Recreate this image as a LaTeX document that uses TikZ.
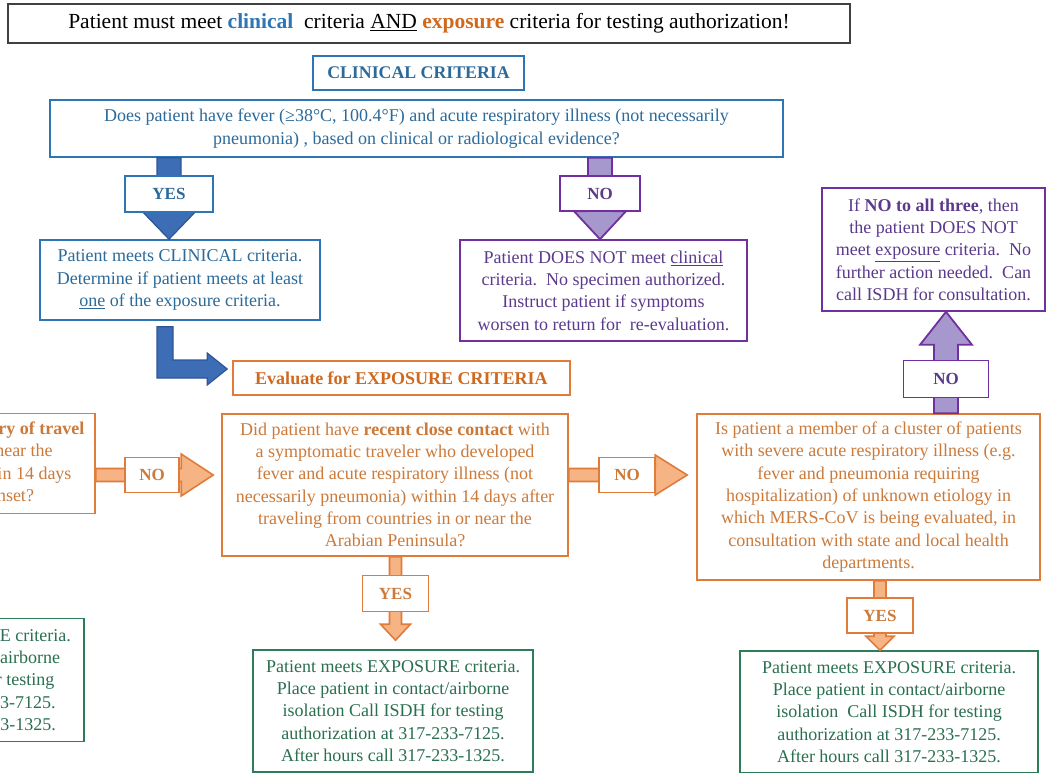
\documentclass[tikz,border=0pt]{standalone}
\usepackage{fontspec}
\setmainfont{Liberation Serif}
\usetikzlibrary{calc}

\definecolor{frameG}{HTML}{404040}
\definecolor{blueB}{HTML}{2E75B6}
\definecolor{blueT}{HTML}{2C6A9A}
\definecolor{blueF}{HTML}{3D6DB5}
\definecolor{blueD}{HTML}{2F5597}
\definecolor{purB}{HTML}{7030A0}
\definecolor{purT}{HTML}{5B3A8C}
\definecolor{purF}{HTML}{A697CC}
\definecolor{oraB}{HTML}{E07B39}
\definecolor{oraT}{HTML}{CC7A3A}
\definecolor{oraD}{HTML}{D0691E}
\definecolor{oraF}{HTML}{F6B384}
\definecolor{grnB}{HTML}{2E7D5A}
\definecolor{grnT}{HTML}{2A7050}

% block arrow: style, from, to, shaft half width, head half width, head length
\newcommand{\fatarrow}[6]{%
  \path ($(#3)!#6!(#2)$) coordinate (fa-h);
  \draw[#1] ($(#2)!#4!90:(#3)$) -- ($(fa-h)!#4!-90:(#2)$) -- ($(fa-h)!#5!-90:(#2)$)
    -- (#3) -- ($(fa-h)!#5!90:(#2)$) -- ($(fa-h)!#4!90:(#2)$) -- ($(#2)!#4!-90:(#3)$) -- cycle;}

\begin{document}
\begin{tikzpicture}[x=1pt, y=-1pt,
    box/.style={draw, line width=1.6pt, fill=white, align=center, inner sep=2pt, font=\fontsize{18}{22.3}\selectfont},
    bluebox/.style={box, draw=blueB, text=blueT},
    purbox/.style={box, draw=purB, text=purT},
    orabox/.style={box, draw=oraB, text=oraT},
    grnbox/.style={box, draw=grnB, text=grnT},
    lblbox/.style={draw, line width=1.4pt, fill=white, inner sep=0pt, font=\fontsize{17}{18}\selectfont\bfseries},
    bluearr/.style={fill=blueF, draw=blueD, line width=1.2pt, line join=miter},
    purarr/.style={fill=purF, draw=purB, line width=1.8pt, line join=miter},
    oraarr/.style={fill=oraF, draw=oraB, line width=1.6pt, line join=miter}
]
\useasboundingbox (0,0) rectangle (1053,772);
\clip (0,0) rectangle (1053,772);

% header
\node[draw=frameG, line width=1.5pt, minimum width=842pt, minimum height=39pt, font=\fontsize{21.5}{24}\selectfont] (title) at (429,23.5)
  {Patient must meet \textcolor{blueB}{\textbf{clinical}}\ \ criteria \underline{AND} \textcolor{oraD}{\textbf{exposure}} criteria for testing authorization!};
\node[bluebox, minimum width=211pt, minimum height=34pt, font=\fontsize{17.8}{20}\selectfont\bfseries] (clinhead) at (418.5,73) {CLINICAL CRITERIA};
\node[bluebox, minimum width=733pt, minimum height=57pt] (q1) at (416.5,128.5)
  {Does patient have fever (≥38°C, 100.4°F) and acute respiratory illness (not necessarily\\pneumonia) , based on clinical or radiological evidence?};

% clinical branch
\node[bluebox, minimum width=280pt, minimum height=80pt] (meetclin) at (180,280)
  {Patient meets CLINICAL criteria.\\Determine if patient meets at least\\\underline{one} of the exposure criteria.};
\node[purbox, minimum width=287pt, minimum height=101pt] (notclin) at (603.5,290.5)
  {Patient DOES NOT meet \underline{clinical}\\criteria.\ \ No specimen authorized.\\Instruct patient if symptoms\\worsen to return for\ \ re-evaluation.};
\node[purbox, minimum width=223pt, minimum height=123pt] (noall) at (933.5,249.5)
  {If \textbf{NO to all three}, then\\the patient DOES NOT\\meet \underline{exposure} criteria.\ \ No\\further action needed.\ \ Can\\call ISDH for consultation.};
\node[orabox, text=oraD, minimum width=337pt, minimum height=34pt, font=\fontsize{18}{20}\selectfont\bfseries] (evalexp) at (401.5,378) {Evaluate for EXPOSURE CRITERIA};

% exposure questions
\node[orabox, minimum width=290pt, minimum height=100pt] (ex1) at (-50,463.5)
  {Does patient have a \textbf{history of travel}\\from countries in or near the\\Arabian Peninsula within 14 days\\before symptom onset?};
\node[orabox, minimum width=346pt, minimum height=142pt] (ex2) at (395,485)
  {Did patient have \textbf{recent close contact} with\\a symptomatic traveler who developed\\fever and acute respiratory illness (not\\necessarily pneumonia) within 14 days after\\traveling from countries in or near the\\Arabian Peninsula?};
\node[orabox, minimum width=343pt, minimum height=166pt] (ex3) at (868.5,497)
  {Is patient a member of a cluster of patients\\with severe acute respiratory illness (e.g.\\fever and pneumonia requiring\\hospitalization) of unknown etiology in\\which MERS-CoV is being evaluated, in\\consultation with state and local health\\departments.};

% exposure met
\node[grnbox, minimum width=280pt, minimum height=123pt] (g1) at (-197,680) [anchor=west]
  {Patient meets EXPOSURE criteria.\\Place patient in contact/airborne\\isolation Call ISDH for testing\\authorization at 317-233-7125.\\After hours call 317-233-1325.};
\node[grnbox, minimum width=280pt, minimum height=122pt] (g2) at (393,711)
  {Patient meets EXPOSURE criteria.\\Place patient in contact/airborne\\isolation Call ISDH for testing\\authorization at 317-233-7125.\\After hours call 317-233-1325.};
\node[grnbox, minimum width=298pt, minimum height=122pt] (g3) at (889,712)
  {Patient meets EXPOSURE criteria.\\Place patient in contact/airborne\\isolation\ \ Call ISDH for testing\\authorization at 317-233-7125.\\After hours call 317-233-1325.};

% arrow labels (placed first so arrows can use them)
\path (169,194) coordinate (yes1c) (600,193.5) coordinate (no1c) (946,379) coordinate (no2c)
      (152,475) coordinate (no3c) (627,475) coordinate (no4c) (395.5,593.5) coordinate (yes2c) (880,615.5) coordinate (yes3c);
\coordinate (no3end) at ($(ex2.west |- no3c)+(-8,0)$);
\coordinate (no4end) at ($(ex3.west |- no4c)+(-9,0)$);
\coordinate (yes2end) at ($(yes2c |- g2.north)+(0,-9)$);
\coordinate (lstart) at ($(meetclin.south)+(-15,6)$);
\coordinate (lend) at ($(evalexp.west)+(-5,-9)$);

% block arrows
\fatarrow{bluearr}{yes1c |- q1.south}{yes1c |- meetclin.north}{12pt}{27pt}{28pt}
\fatarrow{purarr}{no1c |- q1.south}{no1c |- notclin.north}{12pt}{26pt}{28pt}
\fatarrow{purarr}{no2c |- ex3.north}{no2c |- noall.south}{12pt}{26pt}{33pt}
\fatarrow{oraarr}{ex1.east |- no3c}{no3end}{6.5pt}{21pt}{32pt}
\fatarrow{oraarr}{ex2.east |- no4c}{no4end}{6.5pt}{20pt}{32pt}
\fatarrow{oraarr}{yes2c |- ex2.south}{yes2end}{6pt}{15pt}{16pt}
\fatarrow{oraarr}{yes3c |- ex3.south}{yes3c |- g3.north}{6pt}{14pt}{14pt}
\draw[bluearr] let \p1=(lstart), \p2=(lend) in
  (\x1-8pt,\y1) -- (\x1-8pt,\y2-9pt) -- (\x2-20pt,\y2-9pt) -- (\x2-20pt,\y2-16pt) -- (\x2,\y2)
  -- (\x2-20pt,\y2+16pt) -- (\x2-20pt,\y2+9pt) -- (\x1+8pt,\y2+9pt) -- (\x1+8pt,\y1) -- cycle;

% labels on the arrows
\node[lblbox, draw=blueB, text=blueT, minimum width=88pt, minimum height=36pt] (yes1) at (yes1c) {YES};
\node[lblbox, draw=purB, text=purT, minimum width=80pt, minimum height=35pt] (no1) at (no1c) {NO};
\node[lblbox, draw=purB, text=purT, minimum width=85pt, minimum height=37pt] (no2) at (no2c) {NO};
\node[lblbox, draw=oraB, text=oraT, minimum width=54pt, minimum height=35pt] (no3) at (no3c) {NO};
\node[lblbox, draw=oraB, text=oraT, minimum width=56pt, minimum height=35pt] (no4) at (no4c) {NO};
\node[lblbox, draw=oraB, text=oraT, minimum width=66pt, minimum height=36pt] (yes2) at (yes2c) {YES};
\node[lblbox, draw=oraB, text=oraT, minimum width=66pt, minimum height=35pt] (yes3) at (yes3c) {YES};
\end{tikzpicture}
\end{document}
